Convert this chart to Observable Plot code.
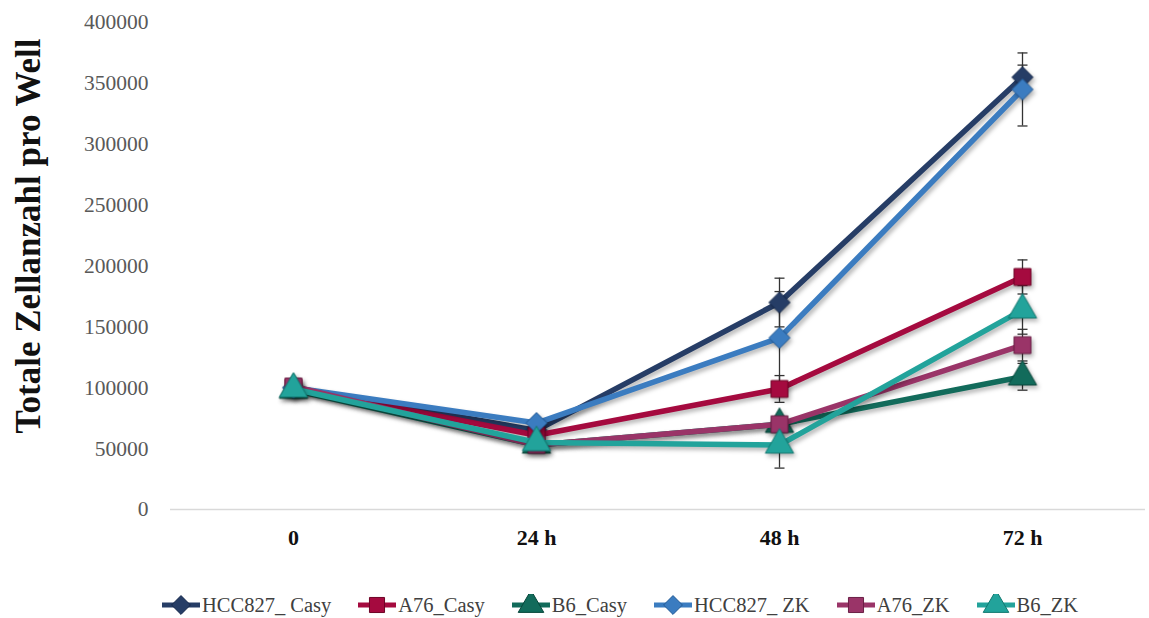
<!DOCTYPE html>
<html>
<head>
<meta charset="utf-8">
<script src="https://cdn.jsdelivr.net/npm/d3@7"></script>
<script src="https://cdn.jsdelivr.net/npm/@observablehq/plot@0.6"></script>
<style>
  html, body { margin: 0; padding: 0; background: #fff; }
  #wrap { position: relative; width: 1149px; height: 618px; overflow: hidden; }
  .shadow { filter: drop-shadow(2px 3px 2px rgba(0,0,0,0.28)); }
  #legend { position: absolute; left: 45px; top: 591px; width: 1149px; height: 28px;
    display: flex; justify-content: center; align-items: center; gap: 0px;
    font-family: "Liberation Serif", "DejaVu Serif", serif; font-size: 20.5px; color: #404040; }
  .item { display: flex; align-items: center; margin: 0 26px 0 0; }
  .item:last-child { margin-right: 0; }
  .item svg { margin-right: 1px; }
</style>
</head>
<body>
<div id="wrap"><div id="chart"></div><div id="legend"></div></div>
<script>
const times = ["0", "24 h", "48 h", "72 h"];
const seriesNames = ["HCC827_ Casy", "A76_Casy", "B6_Casy", "HCC827_ ZK", "A76_ZK", "B6_ZK"];
const hcc827Casy = [100000, 65000, 170000, 355000];
const a76Casy    = [100000, 61000, 99000, 191000];
const b6Casy     = [98000, 53000, 70000, 109000];
const hcc827ZK   = [100000, 71000, 141000, 345000];
const a76ZK      = [101000, 53000, 70000, 135000];
const b6ZK       = [99000, 55000, 53000, 164000];
const hcc827CasyErr = [0, 3000, 20000, 10000];
const a76CasyErr    = [0, 3000, 11000, 14000];
const b6CasyErr     = [0, 2000, 5000, 11000];
const hcc827ZKErr   = [0, 3000, 38000, 30000];
const a76ZKErr      = [0, 2000, 5000, 13000];
const b6ZKErr       = [0, 3000, 19000, 20000];
const yTicks = [0, 50000, 100000, 150000, 200000, 250000, 300000, 350000, 400000];

const colors = ["#263d66", "#a50a3f", "#126b5b", "#3b7cc0", "#9a3468", "#22a39b"];
const strokes = ["#15284a", "#6e0426", "#07463a", "#245b96", "#6a1f45", "#137870"];
const symbols = ["diamond2", "square", "triangle", "diamond2", "square", "triangle"];
const valuesList = [hcc827Casy, a76Casy, b6Casy, hcc827ZK, a76ZK, b6ZK];
const errList = [hcc827CasyErr, a76CasyErr, b6CasyErr, hcc827ZKErr, a76ZKErr, b6ZKErr];

const rows = seriesNames.flatMap((name, s) => times.map((t, i) => ({
  series: name, idx: s, time: t, value: valuesList[s][i], err: errList[s][i]
})));
const errRows = rows.filter(d => d.err > 0);

const cap = { draw(ctx) { ctx.moveTo(-5, 0); ctx.lineTo(5, 0); } };
const serif = "'Liberation Serif', 'DejaVu Serif', serif";

const marks = [
  Plot.ruleY([0], { stroke: "#d9d9d9", strokeWidth: 1.5 }),
  Plot.ruleX(errRows, { x: "time", y1: d => d.value - d.err, y2: d => d.value + d.err, stroke: "#333", strokeWidth: 1.3 }),
  Plot.dot(errRows, { x: "time", y: d => d.value + d.err, symbol: cap, r: 5, stroke: "#333", strokeWidth: 1.3 }),
  Plot.dot(errRows, { x: "time", y: d => d.value - d.err, symbol: cap, r: 5, stroke: "#333", strokeWidth: 1.3 })
];
seriesNames.forEach((name, s) => {
  const data = rows.filter(d => d.idx === s);
  marks.push(Plot.line(data, { x: "time", y: "value", stroke: colors[s], strokeWidth: 5.5, className: "shadow" }));
  marks.push(Plot.dot(data, { x: "time", y: "value", symbol: symbols[s], r: symbols[s] === "triangle" ? 10.5 : 9.5,
    fill: colors[s], stroke: strokes[s], strokeWidth: 1, className: "shadow" }));
});
marks.push(
  Plot.axisY({ ticks: yTicks, tickSize: 0, tickPadding: 22, tickFormat: d => String(d), label: null,
    fontSize: 21.5, fontFamily: serif, fill: "#595959" }),
  Plot.axisX({ tickSize: 0, tickPadding: 20, label: null, fontSize: 22, fontWeight: "bold", fontFamily: serif, fill: "#111" }),
  Plot.text(["Totale Zellanzahl pro Well"], { frameAnchor: "left", textAnchor: "middle", rotate: -90, dx: -142, dy: -30,
    fontSize: 35, fontWeight: "bold", fontFamily: serif, fill: "#111" })
);

const chart = Plot.plot({
  width: 1149, height: 590,
  marginTop: 22, marginBottom: 81, marginLeft: 170, marginRight: 4,
  x: { type: "point", domain: times, padding: 0.5 },
  y: { domain: [0, 400000] },
  style: { fontFamily: serif, background: "#fff" },
  marks
});
document.getElementById("chart").appendChild(chart);

// legend
const legend = document.getElementById("legend");
seriesNames.forEach((name, s) => {
  const item = document.createElement("div");
  item.className = "item";
  const sw = d3.create("svg").attr("width", 40).attr("height", 22);
  sw.append("line").attr("x1", 1).attr("x2", 39).attr("y1", 11).attr("y2", 11)
    .attr("stroke", colors[s]).attr("stroke-width", 5);
  const symMap = { diamond2: d3.symbolDiamond2, square: d3.symbolSquare, triangle: d3.symbolTriangle };
  const size = (symbols[s] === "triangle" ? 9.5 : 8.5) ** 2 * Math.PI;
  sw.append("path").attr("d", d3.symbol(symMap[symbols[s]], size)()).attr("transform", "translate(20,11)")
    .attr("fill", colors[s]).attr("stroke", strokes[s]);
  item.appendChild(sw.node());
  const label = document.createElement("span");
  label.textContent = name;
  item.appendChild(label);
  legend.appendChild(item);
});
</script>
</body>
</html>
